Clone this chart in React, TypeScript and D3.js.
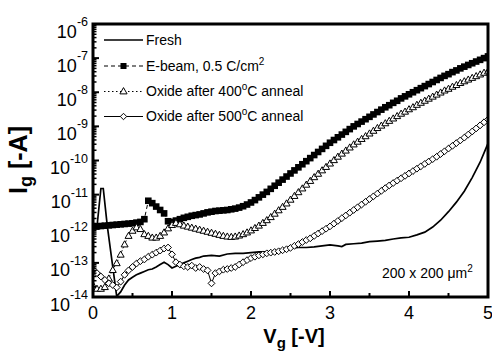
import React from "react";
import * as d3 from "d3";

// Gate voltage grid of the marker series [V]
const V = [0,0.05,0.1,0.15,0.2,0.25,0.3,0.35,0.4,0.45,0.5,0.55,0.6,0.65,0.7,0.75,0.8,0.85,0.9,0.95,
  1,1.05,1.1,1.15,1.2,1.25,1.3,1.35,1.4,1.45,1.5,1.55,1.6,1.65,1.7,1.75,1.8,1.85,1.9,1.95,
  2,2.05,2.1,2.15,2.2,2.25,2.3,2.35,2.4,2.45,2.5,2.55,2.6,2.65,2.7,2.75,2.8,2.85,2.9,2.95,
  3,3.05,3.1,3.15,3.2,3.25,3.3,3.35,3.4,3.45,3.5,3.55,3.6,3.65,3.7,3.75,3.8,3.85,3.9,3.95,
  4,4.05,4.1,4.15,4.2,4.25,4.3,4.35,4.4,4.45,4.5,4.55,4.6,4.65,4.7,4.75,4.8,4.85,4.9,4.95,5];

// log10(Ig)
const ebeamLog = [-11.92,-11.93,-11.92,-11.91,-11.9,-11.89,-11.88,-11.87,-11.86,-11.85,-11.84,-11.82,-11.8,-11.72,-11.18,-11.25,-11.35,-11.45,-11.55,-11.78,
  -11.8,-11.76,-11.72,-11.68,-11.65,-11.62,-11.6,-11.58,-11.55,-11.52,-11.5,-11.48,-11.47,-11.46,-11.45,-11.43,-11.41,-11.38,-11.34,-11.29,
  -11.23,-11.16,-11.08,-11.0,-10.92,-10.83,-10.74,-10.65,-10.56,-10.47,-10.38,-10.29,-10.2,-10.11,-10.02,-9.93,-9.84,-9.75,-9.66,-9.57,
  -9.48,-9.4,-9.32,-9.24,-9.16,-9.08,-9.0,-8.93,-8.86,-8.79,-8.72,-8.65,-8.58,-8.51,-8.44,-8.38,-8.31,-8.25,-8.18,-8.12,
  -8.06,-8.0,-7.94,-7.88,-7.82,-7.76,-7.7,-7.64,-7.58,-7.52,-7.47,-7.41,-7.36,-7.3,-7.25,-7.2,-7.15,-7.1,-7.05,-7.0,-6.95];

const ox400Log = [-13.65,-13.75,-13.75,-13.7,-13.45,-13.2,-13.0,-12.75,-12.45,-12.2,-12.05,-11.95,-12.0,-12.15,-12.2,-12.25,-12.25,-12.2,-12.1,-11.98,
  -11.88,-11.82,-11.86,-11.9,-11.93,-11.96,-11.99,-12.02,-12.05,-12.08,-12.11,-12.14,-12.17,-12.2,-12.22,-12.23,-12.22,-12.19,-12.15,-12.1,
  -12.04,-11.97,-11.9,-11.82,-11.74,-11.65,-11.55,-11.45,-11.35,-11.25,-11.14,-11.03,-10.92,-10.81,-10.7,-10.59,-10.48,-10.38,-10.28,-10.18,
  -10.08,-9.98,-9.88,-9.79,-9.7,-9.61,-9.52,-9.44,-9.36,-9.28,-9.2,-9.12,-9.04,-8.97,-8.9,-8.83,-8.76,-8.69,-8.62,-8.56,
  -8.49,-8.43,-8.36,-8.3,-8.24,-8.18,-8.12,-8.06,-8.0,-7.94,-7.89,-7.83,-7.78,-7.72,-7.67,-7.62,-7.57,-7.52,-7.47,-7.42,-7.38];

const ox500Log = [-13.2,-13.3,-13.4,-13.5,-13.6,-13.65,-13.72,-13.55,-13.35,-13.22,-13.12,-13.02,-12.95,-12.9,-12.82,-12.76,-12.7,-12.64,-12.58,-12.55,
  -12.75,-12.98,-13.05,-13.1,-13.12,-13.08,-13.15,-13.12,-13.18,-13.22,-13.6,-13.3,-13.25,-13.2,-13.18,-13.15,-13.12,-13.05,-12.98,-12.92,
  -12.86,-12.82,-12.78,-12.75,-12.72,-12.7,-12.68,-12.66,-12.63,-12.6,-12.56,-12.5,-12.45,-12.39,-12.33,-12.28,-12.21,-12.14,-12.07,-12.0,
  -11.93,-11.85,-11.77,-11.69,-11.61,-11.53,-11.45,-11.37,-11.29,-11.21,-11.13,-11.05,-10.97,-10.89,-10.81,-10.73,-10.66,-10.59,-10.52,-10.45,
  -10.38,-10.31,-10.24,-10.17,-10.1,-10.03,-9.96,-9.89,-9.81,-9.73,-9.65,-9.57,-9.49,-9.41,-9.33,-9.24,-9.15,-9.06,-8.97,-8.88,-8.8];

const freshV = [0,0.05,0.1,0.13,0.18,0.3,0.35,0.4,0.45,0.5,0.55,0.6,0.65,0.7,0.75,0.8,0.85,0.9,0.95,1.0,1.05,1.1,1.15,1.2,1.25,1.3,1.35,1.4,
  1.5,1.6,1.7,1.8,1.9,2.0,2.1,2.2,2.3,2.4,2.5,2.6,2.7,2.8,2.9,3.0,3.1,3.15,3.2,3.3,3.4,3.5,3.6,3.7,3.8,3.9,4.0,4.1,4.2,4.3,4.4,4.5,4.6,4.7,4.8,4.9,5.0];
const freshLog = [-11.92,-11.95,-10.82,-10.82,-11.9,-13.98,-13.85,-13.65,-13.5,-13.42,-13.35,-13.3,-13.25,-13.2,-13.18,-13.12,-13.05,-12.98,-13.05,-13.15,-13.1,-13.05,-13.0,-12.95,-12.9,-12.86,-12.84,-12.8,
  -12.78,-12.8,-12.74,-12.72,-12.72,-12.7,-12.68,-12.68,-12.66,-12.6,-12.57,-12.55,-12.55,-12.53,-12.5,-12.47,-12.5,-12.52,-12.46,-12.44,-12.42,-12.38,-12.36,-12.34,-12.3,-12.27,-12.25,-12.18,-12.1,-11.95,-11.75,-11.5,-11.22,-10.9,-10.5,-10.05,-9.5];

const xTicks = [0, 1, 2, 3, 4, 5];
const xMinorTicks = [0.5, 1.5, 2.5, 3.5, 4.5];
const yExps = [-6, -7, -8, -9, -10, -11, -12, -13, -14];
const legendLabels = ["Fresh", "E-beam, 0.5 C/cm", "Oxide after 400", "Oxide after 500"];

const FONT = "'Liberation Sans', Arial, Helvetica, sans-serif";
const L = 93, R = 488, T = 24, B = 297;

export default function App() {
  const x = d3.scaleLinear().domain([0, 5]).range([L, R]);
  const y = d3.scaleLog().domain([1e-14, 1e-6]).range([B, T]);

  const toPts = (vs: number[], ls: number[]) => vs.map((v, i) => [v, Math.pow(10, ls[i])] as [number, number]);
  const fresh = toPts(freshV, freshLog);
  const ebeam = toPts(V, ebeamLog);
  const ox400 = toPts(V, ox400Log);
  const ox500 = toPts(V, ox500Log);

  const line = d3.line<[number, number]>().x(d => x(d[0])).y(d => y(d[1]));

  const minorY: number[] = [];
  for (let e = -14; e < -6; e++) for (let m = 2; m <= 9; m++) minorY.push(m * Math.pow(10, e));

  const tri = (cx: number, cy: number, s = 3.5) =>
    `M${cx},${cy - s * 0.95}L${cx + s},${cy + s * 0.8}L${cx - s},${cy + s * 0.8}Z`;
  const dia = (cx: number, cy: number, s = 3.4) =>
    `M${cx},${cy - s}L${cx + s},${cy}L${cx},${cy + s}L${cx - s},${cy}Z`;

  const legY = [40, 66, 91.5, 116.5];
  const lx0 = 104, lx1 = 143, lxm = 123.5, ltx = 146;

  return (
    <svg width={492} height={351} style={{ position: "fixed", left: 0, top: 0, background: "#fff" }} fontFamily={FONT}>
      <rect x={0} y={0} width={492} height={351} fill="#fff" />
      <defs>
        <clipPath id="plot"><rect x={L} y={T} width={R - L} height={B - T} /></clipPath>
      </defs>

      <g clipPath="url(#plot)">
        <path d={line(fresh) || ""} fill="none" stroke="#000" strokeWidth={1.7} />
        <path d={line(ebeam) || ""} fill="none" stroke="#000" strokeWidth={1} strokeDasharray="4,3" />
        {ebeam.map((d, i) => (
          <rect key={"e" + i} x={x(d[0]) - 3.3} y={y(d[1]) - 3.3} width={6.6} height={6.6} fill="#000" />
        ))}
        <path d={line(ox400) || ""} fill="none" stroke="#000" strokeWidth={1} strokeDasharray="1.5,2" />
        {ox400.map((d, i) => (
          <path key={"t" + i} d={tri(x(d[0]), y(d[1]))} fill="#fff" stroke="#000" strokeWidth={1} />
        ))}
        <path d={line(ox500) || ""} fill="none" stroke="#000" strokeWidth={1} />
        {ox500.map((d, i) => (
          <path key={"d" + i} d={dia(x(d[0]), y(d[1]))} fill="#fff" stroke="#000" strokeWidth={1} />
        ))}
      </g>

      {/* frame */}
      <rect x={L} y={T} width={R - L} height={B - T} fill="none" stroke="#000" strokeWidth={3} />

      {/* x ticks */}
      {xTicks.map(t => (
        <g key={"xt" + t}>
          <line x1={x(t)} x2={x(t)} y1={B} y2={B - 6} stroke="#000" strokeWidth={2} />
          <text x={x(t)} y={319} textAnchor="middle" fontSize={18}>{t}</text>
        </g>
      ))}
      {xMinorTicks.map(t => (
        <line key={"xm" + t} x1={x(t)} x2={x(t)} y1={B} y2={B - 4} stroke="#000" strokeWidth={2} />
      ))}

      {/* y ticks */}
      {yExps.map(e => (
        <g key={"yt" + e}>
          <line x1={L} x2={L + 6} y1={y(Math.pow(10, e))} y2={y(Math.pow(10, e))} stroke="#000" strokeWidth={2} />
          <text x={88} y={y(Math.pow(10, e)) + 13.5} textAnchor="end" fontSize={18}>
            10<tspan dy={-11.5} fontSize={12.5}>{String(e)}</tspan>
          </text>
        </g>
      ))}
      {minorY.map((v, i) => (
        <line key={"ym" + i} x1={L} x2={L + 3.5} y1={y(v)} y2={y(v)} stroke="#000" strokeWidth={1.5} />
      ))}

      {/* axis titles */}
      <text x={294} y={343} textAnchor="middle" fontSize={20} fontWeight="bold">
        V<tspan dy={5} fontSize={15}>g</tspan><tspan dy={-5}> [-V]</tspan>
      </text>
      <text transform="translate(27,160) rotate(-90)" textAnchor="middle" fontSize={25} fontWeight="bold">
        I<tspan dy={5} fontSize={18}>g</tspan><tspan dy={-5}> [-A]</tspan>
      </text>

      {/* legend */}
      <line x1={lx0} x2={lx1} y1={legY[0]} y2={legY[0]} stroke="#000" strokeWidth={1.7} />
      <text x={ltx} y={legY[0] + 4.5} fontSize={14}>{legendLabels[0]}</text>

      <line x1={lx0} x2={lx1} y1={legY[1]} y2={legY[1]} stroke="#000" strokeWidth={1.2} strokeDasharray="4,3" />
      <rect x={lxm - 3} y={legY[1] - 3} width={6} height={6} fill="#000" />
      <text x={ltx} y={legY[1] + 4.5} fontSize={14}>{legendLabels[1]}<tspan dy={-6} fontSize={10}>2</tspan></text>

      <line x1={lx0} x2={lx1} y1={legY[2]} y2={legY[2]} stroke="#000" strokeWidth={1.2} strokeDasharray="1.5,2.5" />
      <path d={tri(lxm, legY[2] - 0.5, 3.6)} fill="#fff" stroke="#000" strokeWidth={1} />
      <text x={ltx} y={legY[2] + 4.5} fontSize={14}>{legendLabels[2]}<tspan dy={-6} fontSize={10}>o</tspan><tspan dy={6}>C anneal</tspan></text>

      <line x1={lx0} x2={lx1} y1={legY[3]} y2={legY[3]} stroke="#000" strokeWidth={1.2} />
      <path d={dia(lxm, legY[3], 3.2)} fill="#fff" stroke="#000" strokeWidth={1} />
      <text x={ltx} y={legY[3] + 4.5} fontSize={14}>{legendLabels[3]}<tspan dy={-6} fontSize={10}>o</tspan><tspan dy={6}>C anneal</tspan></text>

      {/* annotation */}
      <text x={382} y={278} fontSize={14}>200 x 200 μm<tspan dy={-6} fontSize={10}>2</tspan></text>
    </svg>
  );
}
